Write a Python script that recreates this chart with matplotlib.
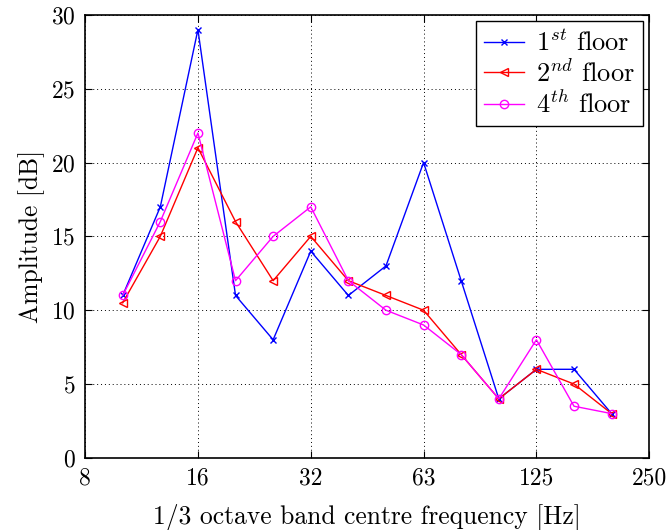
from matplotlib import pyplot as plt
import numpy as np

# Data
bands = ["10", "12.5", "16", "20", "25", "31.5", "40", "50", "63", "80", "100", "125", "160", "200"]
tick_labels = ["8", "16", "32", "63", "125", "250"]

floor1 = [11, 17, 29, 11, 8, 14, 11, 13, 20, 12, 4, 6, 6, 3]
floor2 = [10.5, 15, 21, 16, 12, 15, 12, 11, 10, 7, 4, 6, 5, 3]
floor4 = [11, 16, 22, 12, 15, 17, 12, 10, 9, 7, 4, 8, 3.5, 3]

# Style
plt.rcParams["font.family"] = "serif"
plt.rcParams["font.serif"] = ["cmr10"]
plt.rcParams["mathtext.fontset"] = "cm"
plt.rcParams["axes.formatter.use_mathtext"] = True
plt.rcParams["font.size"] = 17

x = np.arange(1, len(bands) + 1)

fig = plt.figure(figsize=(6.7, 5.3), dpi=100)
ax = fig.add_axes([0.127, 0.136, 0.842, 0.836])

ax.plot(x, floor1, color="blue", marker="x", markersize=4, linewidth=1, label=r"$1^{st}$ floor")
ax.plot(x, floor2, color="red", marker="<", markersize=6, markerfacecolor="none", linewidth=1, label=r"$2^{nd}$ floor")
ax.plot(x, floor4, color="magenta", marker="o", markersize=6, markerfacecolor="none", linewidth=1, label=r"$4^{th}$ floor")

# Formating
ax.set_xlim(0, 15)
ax.set_ylim(0, 30)
ax.set_xticks([0, 3, 6, 9, 12, 15])
ax.set_xticklabels(tick_labels)
ax.set_yticks(range(0, 31, 5))
ax.tick_params(direction="in", top=True, right=True, length=5, width=0.8)
ax.tick_params(axis="x", pad=7)
ax.tick_params(axis="y", pad=7)
ax.grid(True, linestyle=(0, (1, 3)), color="black", linewidth=0.7)
for s in ax.spines.values():
    s.set_linewidth(1.2)

ax.set_xlabel("1/3 octave band centre frequency [Hz]", fontsize=18.4, labelpad=10)
ax.set_ylabel("Amplitude [dB]", fontsize=18.4, labelpad=4)

leg = ax.legend(loc="upper right", fancybox=False, framealpha=1, edgecolor="black",
                borderaxespad=0.25, handlelength=1.5, labelspacing=0.12,
                handletextpad=0.45, borderpad=0.3, fontsize=19)
leg.get_frame().set_linewidth(1)

plt.savefig("out.png")
